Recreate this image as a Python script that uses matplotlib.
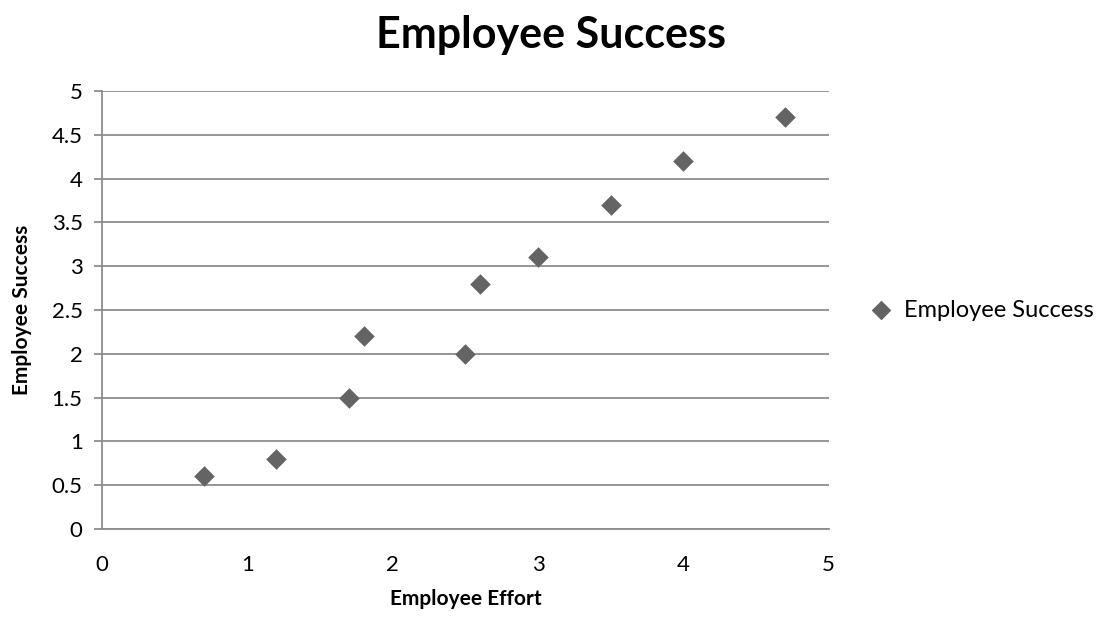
import matplotlib
matplotlib.use("Agg")
import matplotlib.pyplot as plt

effort = [0.7, 1.2, 1.7, 1.8, 2.5, 2.6, 3.0, 3.5, 4.0, 4.7]
success = [0.6, 0.8, 1.5, 2.2, 2.0, 2.8, 3.1, 3.7, 4.2, 4.7]
x_ticks = [0, 1, 2, 3, 4, 5]
y_ticks = [0, 0.5, 1, 1.5, 2, 2.5, 3, 3.5, 4, 4.5, 5]
y_labels = ["0", "0.5", "1", "1.5", "2", "2.5", "3", "3.5", "4", "4.5", "5"]

plt.rcParams["font.family"] = ["Lato", "DejaVu Sans"]
grid_c = "#8c8c8c"

fig = plt.figure(figsize=(11.02, 6.17), dpi=100)
ax = fig.add_axes([0.0926, 0.1426, 0.752 - 0.0926, 0.8525 - 0.1426])

ax.scatter(effort, success, marker="D", s=110, color="#646464", zorder=3,
           label="Employee Success", linewidths=0)

ax.set_xlim(0, 5)
ax.set_ylim(0, 5)
ax.set_xticks(x_ticks)
ax.set_yticks(y_ticks)
ax.set_yticklabels(y_labels)
ax.yaxis.grid(True, color=grid_c, lw=1.3)
ax.set_axisbelow(True)
for side in ["top", "right"]:
    ax.spines[side].set_visible(False)
ax.spines["left"].set_color(grid_c)
ax.spines["left"].set_linewidth(1.3)
ax.spines["bottom"].set_color(grid_c)
ax.spines["bottom"].set_linewidth(1.3)
ax.tick_params(axis="y", length=6, color=grid_c, width=1.3, labelsize=16, pad=8)
ax.tick_params(axis="x", length=0, labelsize=16, pad=19)

ax.set_xlabel("Employee Effort", fontsize=15, fontweight="bold", labelpad=10)
ax.set_ylabel("Employee Success", fontsize=15, fontweight="bold", labelpad=14)
fig.text(0.5, 0.943, "Employee Success", ha="center", va="center",
         fontsize=31, fontweight="bold")

ax.legend(loc="center left", bbox_to_anchor=(1.01, 0.5), frameon=False,
          fontsize=17, handletextpad=0.0, markerscale=0.95)

fig.savefig("out.png", dpi=100)
